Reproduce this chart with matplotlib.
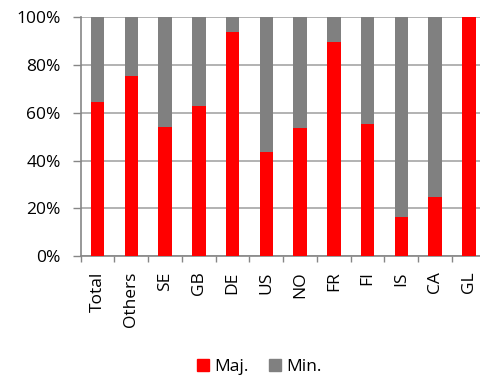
import matplotlib
matplotlib.use("Agg")
import matplotlib.pyplot as plt
import numpy as np
from matplotlib.patches import Patch
from matplotlib.ticker import FixedLocator, PercentFormatter

plt.rcParams['font.family'] = ['Open Sans', 'DejaVu Sans']

categories = ['Total', 'Others', 'SE', 'GB', 'DE', 'US', 'NO', 'FR', 'FI', 'IS', 'CA', 'GL']
maj = [64.7, 75.6, 54.1, 62.9, 94.0, 43.6, 53.7, 89.9, 55.3, 16.4, 24.7, 100.0]
minor = [100 - v for v in maj]

red = '#FF0000'
grey = '#808080'
axis_col = '#868686'
grid_col = '#A6A6A6'
fs = 12.5

fig = plt.figure(figsize=(4.8, 3.78), dpi=100)
ax = fig.add_axes([0.168, 0.3228, 0.844, 0.631])

x = np.arange(len(categories))
ax.bar(x, maj, width=0.4, color=red, zorder=3)
ax.bar(x, minor, bottom=maj, width=0.4, color=grey, zorder=3)

ax.set_xlim(-0.5, len(categories) - 0.5)
ax.set_ylim(0, 100)
ax.set_yticks(np.arange(0, 101, 20))
ax.yaxis.set_major_formatter(PercentFormatter(decimals=0))
ax.yaxis.grid(True, color=grid_col, linewidth=1.2, zorder=0)

ax.set_xticks(x)
ax.set_xticklabels(categories, rotation=90)
ax.xaxis.set_minor_locator(FixedLocator(np.arange(-0.5, len(categories), 1)))
ax.tick_params(axis='x', which='major', length=0, pad=11, labelsize=fs)
ax.tick_params(axis='x', which='minor', length=4.3, color=axis_col, width=1)
ax.tick_params(axis='y', length=5.5, color=axis_col, width=1, labelsize=fs, pad=9)

for side in ['top', 'right']:
    ax.spines[side].set_visible(False)
for side in ['left', 'bottom']:
    ax.spines[side].set_color(axis_col)
    ax.spines[side].set_linewidth(1.2)

handles = [Patch(color=red, label='Maj.'), Patch(color=grey, label='Min.')]
fig.legend(handles=handles, loc='center', bbox_to_anchor=(0.54, 0.03), ncol=2,
           frameon=False, fontsize=fs, handlelength=0.7, handleheight=0.7,
           handletextpad=0.3, columnspacing=1.2)

fig.savefig('out.png', dpi=100)
